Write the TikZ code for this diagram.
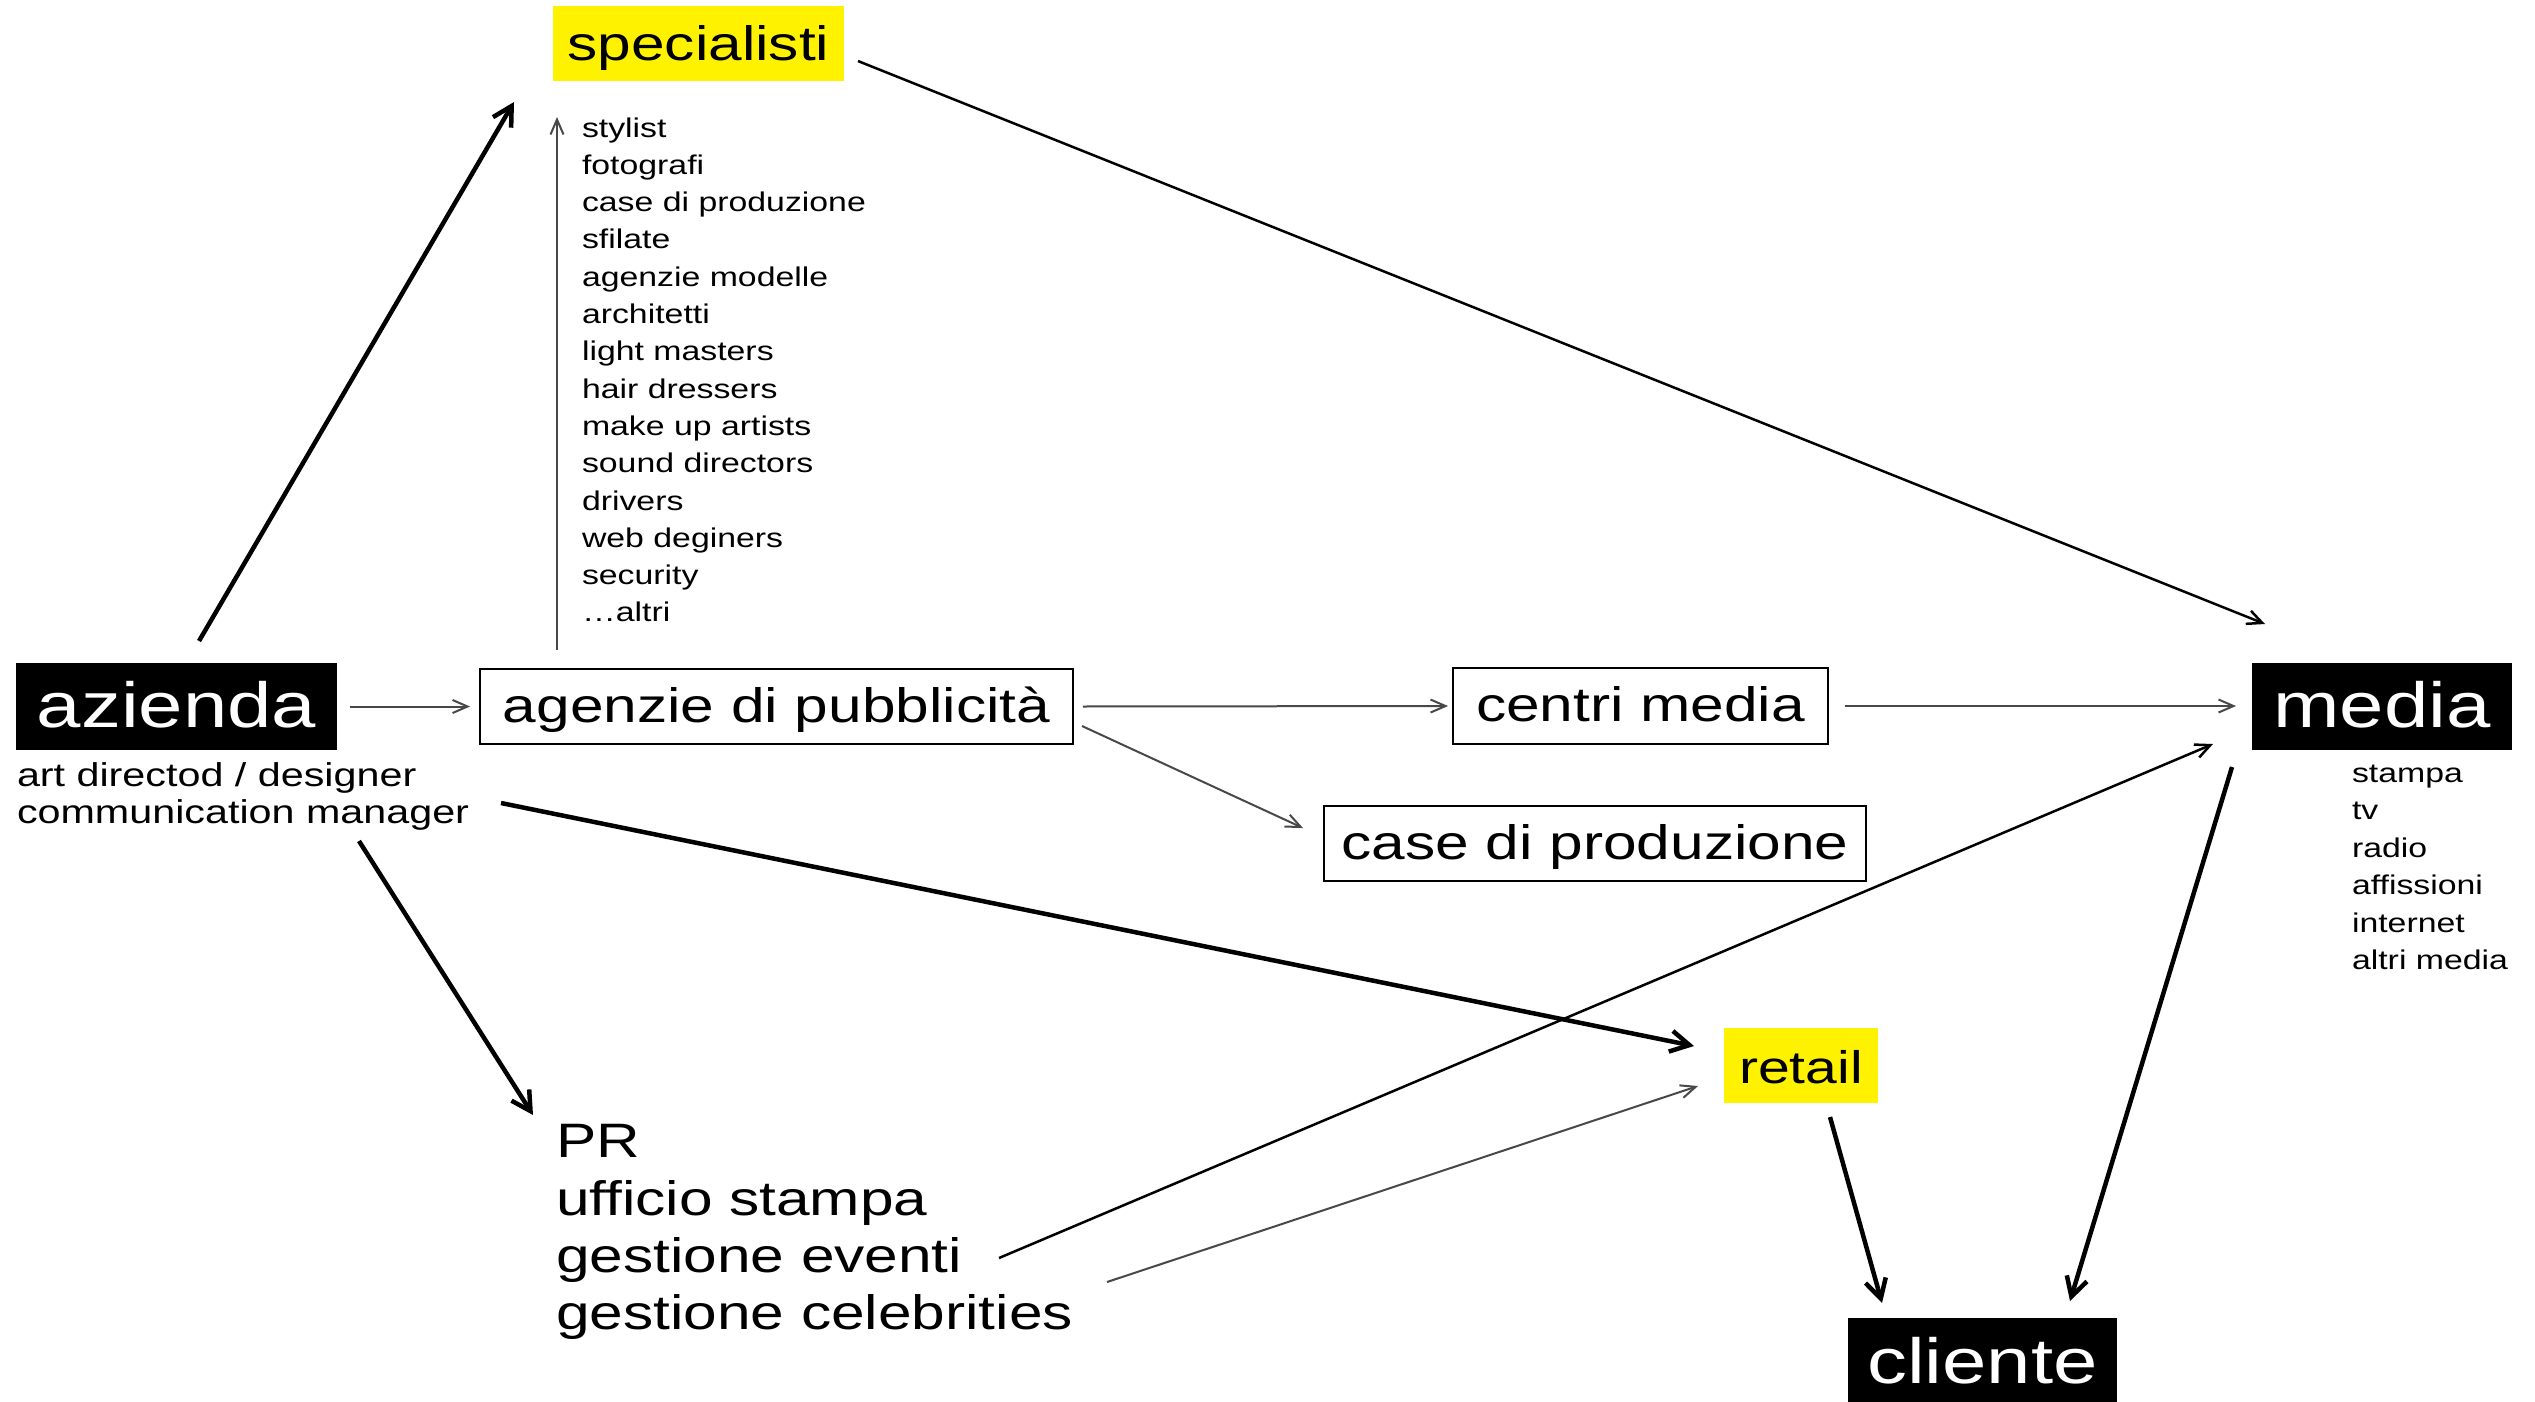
\documentclass[tikz,border=0pt]{standalone}
\usepackage{fontspec}
\setmainfont{Liberation Sans}[FakeStretch=1.25]
\usetikzlibrary{arrows.meta}
\definecolor{signal}{RGB}{255,242,0}
\definecolor{wire}{RGB}{72,72,72}

\begin{document}
\begin{tikzpicture}[x=0.02cm,y=-0.02cm,
  every node/.style={inner sep=0pt,outer sep=0pt},
  bigbox/.style={fill=black,text=white,font=\fontsize{36.3}{42}\selectfont,
    text height=0.84cm,text depth=0pt},
  framebox/.style={draw=black,line width=0.04cm,fill=white,
    font=\fontsize{27.5}{32}\selectfont,text height=0.62cm,text depth=0pt},
  yellowbox/.style={fill=signal,font=\fontsize{27.5}{32}\selectfont,
    text height=0.66cm,text depth=0pt},
  listtext/.style={anchor=base west,font=\fontsize{15.4}{18}\selectfont},
  subtext/.style={anchor=base west,font=\fontsize{18.8}{22}\selectfont},
  prtext/.style={anchor=base west,font=\fontsize{27.5}{32}\selectfont},
  heavy/.style={line width=0.09cm,black,-{Straight Barb[length=0.38cm,width=0.42cm]}},
  plain/.style={line width=0.05cm,black,-{Straight Barb[length=0.3cm,width=0.28cm]}},
  faint/.style={line width=0.04cm,wire,-{Straight Barb[length=0.3cm,width=0.26cm]}}]

% canvas
\useasboundingbox (0,0) rectangle (2535,1401);
\fill[white] (0,0) rectangle (2535,1401);

% main boxes
\node[bigbox,minimum width=6.42cm,minimum height=1.74cm] (azienda) at (176.5,706.5) {azienda};
\node[bigbox,minimum width=5.2cm,minimum height=1.74cm] (media) at (2382,706.5) {media};
\node[bigbox,minimum width=5.38cm,minimum height=1.76cm] (cliente) at (1982.5,1362) {cliente};
\node[framebox,minimum width=11.86cm,minimum height=1.5cm] (agenzie) at (776.5,706.5) {agenzie di pubblicità};
\node[framebox,minimum width=7.5cm,minimum height=1.52cm] (centri) at (1640.5,706) {centri media};
\node[framebox,minimum width=10.84cm,minimum height=1.5cm] (produzione) at (1595,843.5) {case di produzione};
\node[yellowbox,minimum width=5.82cm,minimum height=1.5cm] (specialisti) at (698.5,43.5) {specialisti};
\node[yellowbox,minimum width=3.08cm,minimum height=1.5cm,font=\fontsize{26}{30}\selectfont,text height=0.7cm] (retail) at (1801,1065.5) {retail};

% specialists list
\foreach \t [count=\i] in {stylist,fotografi,case di produzione,sfilate,agenzie modelle,
  architetti,light masters,hair dressers,make up artists,sound directors,drivers,
  web deginers,security,{{\ldots}altri}}
  \node[listtext] (sp\i) at (582,{137+37.3*(\i-1)}) {\t};

% media list
\foreach \t [count=\i] in {stampa,tv,radio,affissioni,internet,altri media}
  \node[listtext] (md\i) at (2352,{782+37.5*(\i-1)}) {\t};

% roles under azienda
\node[subtext] (role1) at (17,786) {art directod / designer};
\node[subtext] (role2) at (17,823) {communication manager};

% PR block
\node[prtext] (pr1) at (556,1157) {PR};
\node[prtext] (pr2) at (556,1215) {ufficio stampa};
\node[prtext] (pr3) at (556,1272) {gestione eventi};
\node[prtext] (pr4) at (556,1329) {gestione celebrities};

% free ends of the diagonal connectors
\coordinate (az-up) at (199,641);
\coordinate (spec-in) at (514,102);
\coordinate (ag-up) at (557,650);
\coordinate (list-top) at (557,117);
\coordinate (ag-down) at (1082,726);
\coordinate (prod-in) at (1303,828);
\coordinate (spec-out) at (858,61);
\coordinate (media-in1) at (2265,624);
\coordinate (role-out) at (501,803);
\coordinate (retail-in1) at (1694,1046);
\coordinate (role-down) at (359,841);
\coordinate (pr-in) at (533,1115);
\coordinate (ev-out) at (999,1258);
\coordinate (media-in2) at (2213,744);
\coordinate (cel-out) at (1107,1282);
\coordinate (retail-in2) at (1698,1086);
\coordinate (retail-out) at (1830,1117);
\coordinate (cl-in1) at (1882,1303);
\coordinate (media-out) at (2232,767);
\coordinate (cl-in2) at (2070,1301);

% connectors
\draw[faint,shorten <=0.26cm,shorten >=0.2cm] (azienda) -- (agenzie);
\draw[faint,shorten <=0.2cm,shorten >=0.1cm] (agenzie.east) -- (centri.west);
\draw[faint,shorten <=0.34cm,shorten >=0.32cm] (centri.east) -- (media.west |- centri.east);
\draw[faint] (ag-up) -- (list-top);
\draw[faint] (ag-down) -- (prod-in);
\draw[faint] (cel-out) -- (retail-in2);
\draw[plain] (spec-out) -- (media-in1);
\draw[plain] (ev-out) -- (media-in2);
\draw[heavy] (az-up) -- (spec-in);
\draw[heavy] (role-out) -- (retail-in1);
\draw[heavy] (role-down) -- (pr-in);
\draw[heavy] (retail-out) -- (cl-in1);
\draw[heavy] (media-out) -- (cl-in2);
\end{tikzpicture}
\end{document}
